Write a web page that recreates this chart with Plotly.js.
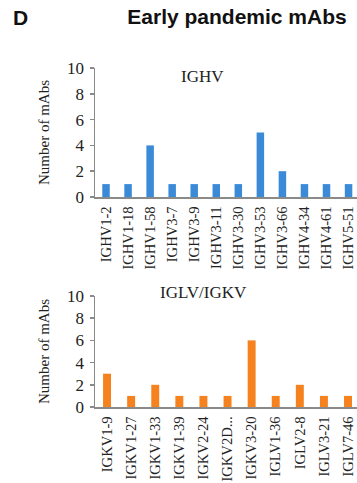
<!DOCTYPE html>
<html>
<head>
<meta charset="utf-8">
<script src="https://cdn.plot.ly/plotly-3.0.1.min.js"></script>
<style>html,body{margin:0;padding:0;background:#fff;}#chart{width:357px;height:483px;}</style>
</head>
<body>
<div id="chart"></div>
<script>
var heavyGenes = ["IGHV1-2","IGHV1-18","IGHV1-58","IGHV3-7","IGHV3-9","IGHV3-11","IGHV3-30","IGHV3-53","IGHV3-66","IGHV4-34","IGHV4-61","IGHV5-51"];
var heavyCounts = [1,1,4,1,1,1,1,5,2,1,1,1];
var lightGenes = ["IGKV1-9","IGKV1-27","IGKV1-33","IGKV1-39","IGKV2-24","IGKV2D...","IGKV3-20","IGLV1-36","IGLV2-8","IGLV3-21","IGLV7-46"];
var lightCounts = [3,1,2,1,1,1,6,1,2,1,1];
var yTicks = [0,2,4,6,8,10];

var W = 357, H = 483;
var serif = "'Liberation Serif', 'Times New Roman', serif";
var sans = "'Liberation Sans', Arial, sans-serif";
var axisGray = "#8a8a8a";
function py(px){ return 1 - px / H; }

var traces = [
  {type:"bar", x:heavyGenes, y:heavyCounts, xaxis:"x", yaxis:"y", width:0.34,
   marker:{color:"#3b8ad8"}, hoverinfo:"x+y", showlegend:false},
  {type:"bar", x:lightGenes, y:lightCounts, xaxis:"x2", yaxis:"y2", width:0.33,
   marker:{color:"#f5811f"}, hoverinfo:"x+y", showlegend:false}
];

function xAxis(cats, firstCenter, spacing, anchor){
  var right = (W - firstCenter) / spacing;
  return {
    anchor: anchor, domain:[0,1], type:"category",
    categoryorder:"array", categoryarray: cats,
    range:[-0.5, right],
    showline:true, linecolor:axisGray, linewidth:1.5,
    ticks:"", showgrid:false, zeroline:false,
    tickangle:-90, ticklabelstandoff:2,
    tickfont:{family:serif, size:14.6, color:"#222"},
    fixedrange:true
  };
}
function yAxis(top, bottom, anchor){
  return {
    anchor: anchor, domain:[py(bottom), py(top)],
    range:[0,10], tickvals:yTicks,
    showline:true, linecolor:axisGray, linewidth:1.5,
    ticks:"outside", ticklen:4, tickcolor:axisGray, tickwidth:1.5,
    showgrid:false, zeroline:false,
    ticklabelstandoff:2,
    tickfont:{family:serif, size:17, color:"#222"},
    title:{text:"Number of mAbs", font:{family:serif, size:15, color:"#222"}, standoff:14},
    fixedrange:true
  };
}

var layout = {
  width:W, height:H,
  margin:{l:95, r:0, t:0, b:0, pad:0},
  paper_bgcolor:"#fff", plot_bgcolor:"#fff",
  showlegend:false,
  title:{text:"<b>Early pandemic mAbs</b>", xref:"container", yref:"container",
         x:237/W, y:1-17/H, xanchor:"center", yanchor:"middle",
         font:{family:sans, size:21, color:"#111"}},
  xaxis: xAxis(heavyGenes, 106, 22.05, "y"),
  yaxis: yAxis(68, 197, "x"),
  xaxis2: xAxis(lightGenes, 106.5, 24.15, "y2"),
  yaxis2: yAxis(296, 407, "x2"),
  annotations:[
    {text:"<b>D</b>", xref:"paper", yref:"paper", x:(20-95)/(W-95), y:py(17),
     xanchor:"center", yanchor:"middle", showarrow:false,
     font:{family:sans, size:21, color:"#111"}},
    {text:"IGHV", xref:"paper", yref:"paper", x:(202-95)/(W-95), y:py(76),
     xanchor:"center", yanchor:"middle", showarrow:false,
     font:{family:serif, size:17, color:"#222"}},
    {text:"IGLV/IGKV", xref:"paper", yref:"paper", x:(203-95)/(W-95), y:py(292),
     xanchor:"center", yanchor:"middle", showarrow:false,
     font:{family:serif, size:17, color:"#222"}}
  ]
};

Plotly.newPlot("chart", traces, layout, {displayModeBar:false, staticPlot:true});
</script>
</body>
</html>
